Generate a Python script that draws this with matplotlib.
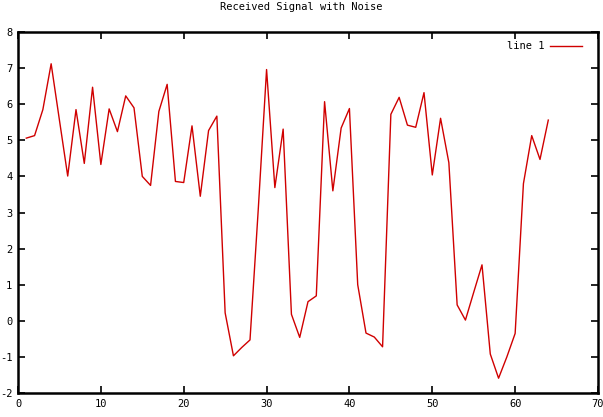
import numpy as np
import matplotlib.pyplot as plt

# Received signal samples
sample = np.arange(1, 65)
signal = [5.06, 5.13, 5.85, 7.12, 5.56, 4.01, 5.85, 4.36, 6.47, 4.33,
          5.87, 5.24, 6.23, 5.90, 4.00, 3.75, 5.80, 6.55, 3.86, 3.83,
          5.40, 3.45, 5.27, 5.67, 0.22, -0.97, -0.74, -0.53, 3.10, 6.96,
          3.69, 5.31, 0.18, -0.46, 0.53, 0.69, 6.07, 3.60, 5.34, 5.88,
          1.00, -0.34, -0.45, -0.72, 5.72, 6.19, 5.42, 5.36, 6.32, 4.04,
          5.61, 4.38, 0.44, 0.02, 0.79, 1.55, -0.92, -1.59, -1.00, -0.35,
          3.80, 5.13, 4.47, 5.56]

xticks = np.arange(0, 71, 10)
yticks = np.arange(-2, 9, 1)

plt.rcParams['font.family'] = ['DejaVu Sans Mono']
plt.rcParams['font.size'] = 7.2
plt.rcParams['axes.unicode_minus'] = False

fig = plt.figure(figsize=(6.03, 4.17), dpi=100)
ax = fig.add_axes([18 / 603, 1 - 393 / 417, 580 / 603, 361 / 417])

ax.plot(sample, signal, color='#d00000', linewidth=1.0, label='line 1')

ax.set_xlim(0, 70)
ax.set_ylim(-2, 8)
ax.set_xticks(xticks)
ax.set_yticks(yticks)
ax.tick_params(direction='in', length=5, width=1.2, top=True, right=True,
               labelsize=7.5, pad=4)
for s in ax.spines.values():
    s.set_linewidth(1.8)

fig.suptitle('Received Signal with Noise', y=0.995, fontsize=7.5,
             va='top')

ax.legend(loc='upper right', bbox_to_anchor=(0.988, 1.0), frameon=False,
          handlelength=3.0, handletextpad=0.6, markerfirst=False,
          borderaxespad=0.5, fontsize=7.5)

fig.savefig('out.png', dpi=100)
